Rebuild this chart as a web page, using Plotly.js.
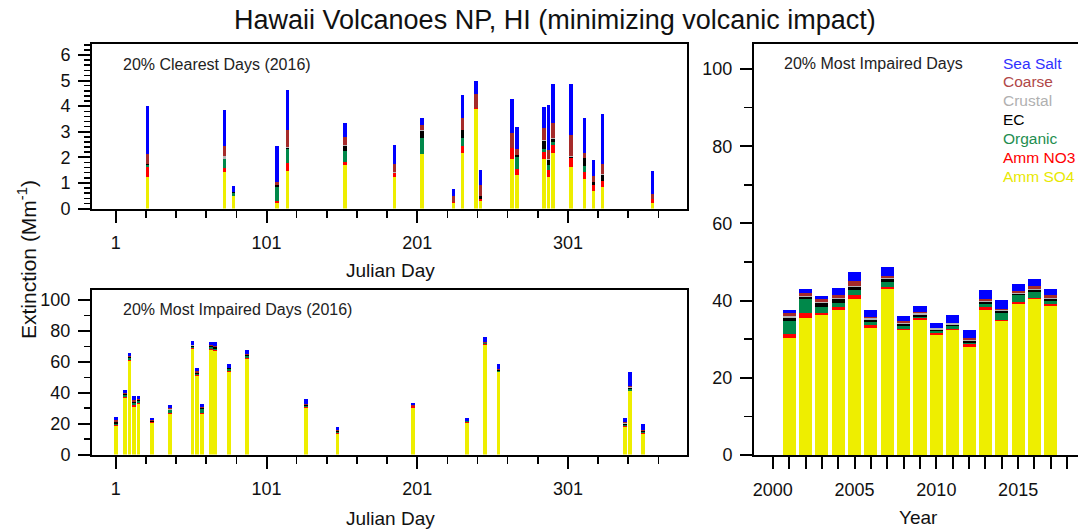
<!DOCTYPE html>
<html>
<head>
<meta charset="utf-8">
<script src="https://cdn.plot.ly/plotly-3.0.1.min.js"></script>
<style>html,body{margin:0;padding:0;background:#fff;}#chart{width:1078px;height:529px;}</style>
</head>
<body>
<div id="chart"></div>
<script>
// ---------- Data: 20% Clearest Days (2016) ----------
const clearDays    = [22, 73, 79, 108, 115, 153, 186, 204, 225, 231, 240, 243, 264, 267, 285, 288, 291, 303, 312, 318, 324, 357];
const clearSO4     = [1.25,1.41,0.47,0.20,1.48,1.71,1.24,2.12,0.20,2.16,3.90,0.30,1.95,1.32,1.95,1.25,2.18,1.63,1.16,0.69,0.86,0.22];
const clearNO3     = [0.39,0.18,0.02,0.09,0.28,0.11,0.13,0.00,0.04,0.29,0.03,0.08,0.41,0.24,0.25,0.26,0.32,0.36,0.25,0.24,0.23,0.16];
const clearOrganic = [0.06,0.36,0.10,0.57,0.58,0.43,0.00,0.65,0.00,0.30,0.00,0.00,0.00,0.46,0.14,0.21,0.10,0.00,0.26,0.00,0.00,0.00];
const clearEC      = [0.03,0.00,0.04,0.04,0.02,0.19,0.00,0.26,0.00,0.31,0.00,0.09,0.00,0.06,0.29,0.18,0.12,0.02,0.32,0.12,0.21,0.00];
const clearCrustal = [0.00,0.11,0.00,0.02,0.05,0.03,0.04,0.02,0.00,0.02,0.00,0.00,0.02,0.00,0.04,0.04,0.02,0.04,0.00,0.00,0.04,0.00];
const clearCoarse  = [0.39,0.38,0.03,0.12,0.65,0.34,0.32,0.23,0.23,0.46,0.54,0.46,0.58,0.25,0.47,0.35,0.62,0.83,0.19,0.23,0.41,0.17];
const clearSeaSalt = [1.88,1.42,0.23,1.40,1.56,0.54,0.76,0.25,0.30,0.91,0.51,0.58,1.31,0.86,0.83,1.76,1.52,2.00,1.35,0.62,1.94,0.92];

// ---------- Data: 20% Most Impaired Days (2016) ----------
const impDays    = [1, 7, 10, 13, 16, 25, 37, 52, 55, 58, 64, 67, 76, 88, 127, 148, 198, 234, 246, 255, 339, 342, 351];
const impSO4     = [18.3,36.8,60.6,31.0,32.9,20.2,26.4,68.1,50.7,26.4,67.7,67.1,53.7,61.9,30.3,13.1,30.3,20.6,71.2,53.3,18.0,40.8,13.5];
const impNO3     = [1.0,0.5,0.6,0.8,0.6,0.6,0.6,0.8,0.8,0.6,0.6,0.6,0.4,0.5,0.7,0.6,0.8,0.2,0.1,0.2,0.3,0.3,0.2];
const impOrganic = [0.6,1.4,1.2,1.4,1.0,0.5,1.6,0.8,0.6,2.2,1.4,0.8,1.2,1.4,0.5,0.8,0.2,0.6,1.0,0.8,0.9,1.3,0.9];
const impEC      = [1.1,0.6,0.8,0.9,0.7,0.4,0.5,0.7,0.8,0.6,0.6,1.0,0.5,0.8,0.6,0.5,0.2,0.2,0.2,0.6,0.8,0.8,0.4];
const impCrustal = [0.2,0.1,0.1,0.2,0.1,0.1,0.1,0.2,0.1,0.1,0.1,0.1,0.1,0.1,0.1,0.1,0.0,0.0,0.0,0.1,0.1,0.2,0.1];
const impCoarse  = [1.1,0.6,0.7,1.0,0.8,0.6,0.6,0.6,0.8,0.6,0.6,0.8,0.4,0.6,0.8,0.5,0.3,0.2,0.2,0.5,0.8,1.0,1.0];
const impSeaSalt = [2.0,1.5,2.0,2.3,1.7,1.4,2.0,2.5,2.5,2.1,2.1,2.7,2.0,2.6,3.1,2.4,1.7,1.8,3.6,3.0,2.5,8.9,3.9];

// ---------- Data: annual 20% Most Impaired Days ----------
const years       = [2001,2002,2003,2004,2005,2006,2007,2008,2009,2010,2011,2012,2013,2014,2015,2016,2017];
const yrSO4       = [30.4,35.4,36.3,37.5,40.5,33.0,42.9,32.3,35.0,31.0,32.4,28.1,37.7,34.7,39.0,40.4,38.6];
const yrNO3       = [0.9,1.3,0.6,0.8,0.9,0.6,0.7,0.4,0.4,0.5,0.2,0.6,0.6,0.3,0.6,0.3,0.4];
const yrOrganic   = [3.4,3.6,1.4,1.1,1.3,0.9,1.3,0.7,0.4,0.6,0.8,0.4,0.7,1.7,1.8,1.5,0.9];
const yrEC        = [0.9,0.7,1.1,1.1,0.9,0.6,0.7,0.5,0.6,0.4,0.4,0.4,0.6,0.6,0.4,0.6,0.6];
const yrCrustal   = [0.3,0.3,0.3,0.3,0.3,0.3,0.3,0.3,0.3,0.3,0.3,0.3,0.3,0.3,0.3,0.3,0.3];
const yrCoarse    = [0.8,0.7,0.7,0.7,1.1,0.4,0.6,0.6,0.3,0.2,0.1,0.6,0.6,0.3,0.4,0.6,0.6];
const yrSeaSalt   = [0.8,1.0,0.9,1.8,2.3,1.9,2.1,1.2,1.6,1.2,2.2,1.9,2.3,2.3,1.9,1.9,1.7];
const yearTicks   = [2000,2001,2002,2003,2004,2005,2006,2007,2008,2009,2010,2011,2012,2013,2014,2015,2016,2017,2018];

const speciesNames  = ['Amm SO4','Amm NO3','Organic','EC','Crustal','Coarse','Sea Salt'];
const speciesColors = ['#EEEE00','#FF0000','#00884A','#000000','#B4B4B4','#A52A2A','#0000FF'];
const legendColors  = ['#E8E800','#FF0000','#1E8E50','#000000','#B0B0B0','#B04848','#3030FF'];

const clearSeries = [clearSO4, clearNO3, clearOrganic, clearEC, clearCrustal, clearCoarse, clearSeaSalt];
const impSeries   = [impSO4, impNO3, impOrganic, impEC, impCrustal, impCoarse, impSeaSalt];
const yrSeries    = [yrSO4, yrNO3, yrOrganic, yrEC, yrCrustal, yrCoarse, yrSeaSalt];

const W = 1078, H = 529;
const px = x => x / W;
const py = y => 1 - y / H;

const traces = [];
function addStack(xs, series, xa, ya, width) {
  series.forEach((vals, i) => {
    traces.push({
      type: 'bar', x: xs, y: vals, xaxis: xa, yaxis: ya, width: width,
      marker: {color: speciesColors[i], line: {width: 0}},
      name: speciesNames[i], showlegend: false, hoverinfo: 'x+y+name'
    });
  });
}
addStack(clearDays, clearSeries, 'x', 'y', 2.4);
addStack(impDays, impSeries, 'x2', 'y2', 2.4);
addStack(years, yrSeries, 'x3', 'y3', 0.8);

const FAM = 'Liberation Sans, Arial, sans-serif';
const font = {family: FAM, size: 18, color: '#111'};
const frame = {showline: true, mirror: true, linecolor: '#000', linewidth: 2, zeroline: false,
               showgrid: false, ticks: 'outside', tickcolor: '#000', tickwidth: 2, ticklen: 12,
               tickfont: font, fixedrange: true};

const dayAxis = (anchor) => Object.assign({}, frame, {
  anchor: anchor, domain: [px(92), px(687)], range: [-14.8, 380],
  tickmode: 'linear', tick0: 1, dtick: 100, ticklabelstandoff: 5,
  minor: {dtick: 20, tick0: 1, ticks: 'outside', ticklen: 7, tickwidth: 1.5, tickcolor: '#000', showgrid: false}
});

const layout = {
  width: W, height: H,
  margin: {l: 0, r: 0, t: 0, b: 0},
  paper_bgcolor: '#fff', plot_bgcolor: '#fff',
  barmode: 'stack', bargap: 0,
  font: font,
  showlegend: false,
  xaxis: dayAxis('y'),
  yaxis: Object.assign({}, frame, {anchor: 'x', domain: [py(208.5), py(43.5)], range: [0, 6.45],
    tickmode: 'linear', tick0: 0, dtick: 1, ticklabelstandoff: 4,
    minor: {dtick: 0.2, ticks: 'outside', ticklen: 6, tickwidth: 1.5, tickcolor: '#000', showgrid: false}}),
  xaxis2: dayAxis('y2'),
  yaxis2: Object.assign({}, frame, {anchor: 'x2', domain: [py(454.5), py(290)], range: [0, 106.5],
    tickmode: 'linear', tick0: 0, dtick: 20, ticklabelstandoff: 4,
    minor: {dtick: 10, ticks: 'outside', ticklen: 6, tickwidth: 1.5, tickcolor: '#000', showgrid: false}}),
  xaxis3: Object.assign({}, frame, {anchor: 'y3', domain: [px(754), 1], range: [1998.85, 2018.66],
    tickmode: 'linear', tick0: 2000, dtick: 5, ticklabelstandoff: 5,
    minor: {tickmode: 'array', tickvals: yearTicks, ticks: 'outside', ticklen: 12, tickwidth: 2, tickcolor: '#000', showgrid: false}}),
  yaxis3: Object.assign({}, frame, {anchor: 'x3', domain: [py(455), py(44)], range: [0, 106.5],
    tickmode: 'linear', tick0: 0, dtick: 20, ticklabelstandoff: 4,
    minor: {dtick: 10, ticks: 'outside', ticklen: 8, tickwidth: 1.5, tickcolor: '#000', showgrid: false}}),
  annotations: []
};

const ann = (text, x, y, opts) => Object.assign({
  text: text, x: px(x), y: py(y), xref: 'paper', yref: 'paper', showarrow: false,
  xanchor: 'center', yanchor: 'middle', font: font
}, opts || {});

layout.annotations.push(ann('Hawaii Volcanoes NP, HI (minimizing volcanic impact)', 555, 20,
  {font: {family: FAM, size: 27, color: '#111'}}));
layout.annotations.push(ann('Extinction (Mm<sup>-1</sup>)', 27, 260, {textangle: -90,
  font: {family: FAM, size: 21, color: '#111'}}));
layout.annotations.push(ann('Julian Day', 390, 270, {font: {family: FAM, size: 19, color: '#111'}}));
layout.annotations.push(ann('Julian Day', 390, 518, {font: {family: FAM, size: 19, color: '#111'}}));
layout.annotations.push(ann('Year', 918, 517, {font: {family: FAM, size: 19, color: '#111'}}));
const small = {family: FAM, size: 16, color: '#222'};
layout.annotations.push(ann('20% Clearest Days (2016)', 121, 64, {xanchor: 'left', font: small}));
layout.annotations.push(ann('20% Most Impaired Days (2016)', 121, 309, {xanchor: 'left', font: small}));
layout.annotations.push(ann('20% Most Impaired Days', 782, 63, {xanchor: 'left', font: small}));

const legendOrder = [6, 5, 4, 3, 2, 1, 0];
legendOrder.forEach((k, i) => {
  layout.annotations.push(ann(speciesNames[k], 1001, 63 + i * 18.9, {xanchor: 'left',
    font: {family: FAM, size: 15.5, color: legendColors[k]}}));
});

Plotly.newPlot('chart', traces, layout, {displayModeBar: false, staticPlot: true});
</script>
</body>
</html>
